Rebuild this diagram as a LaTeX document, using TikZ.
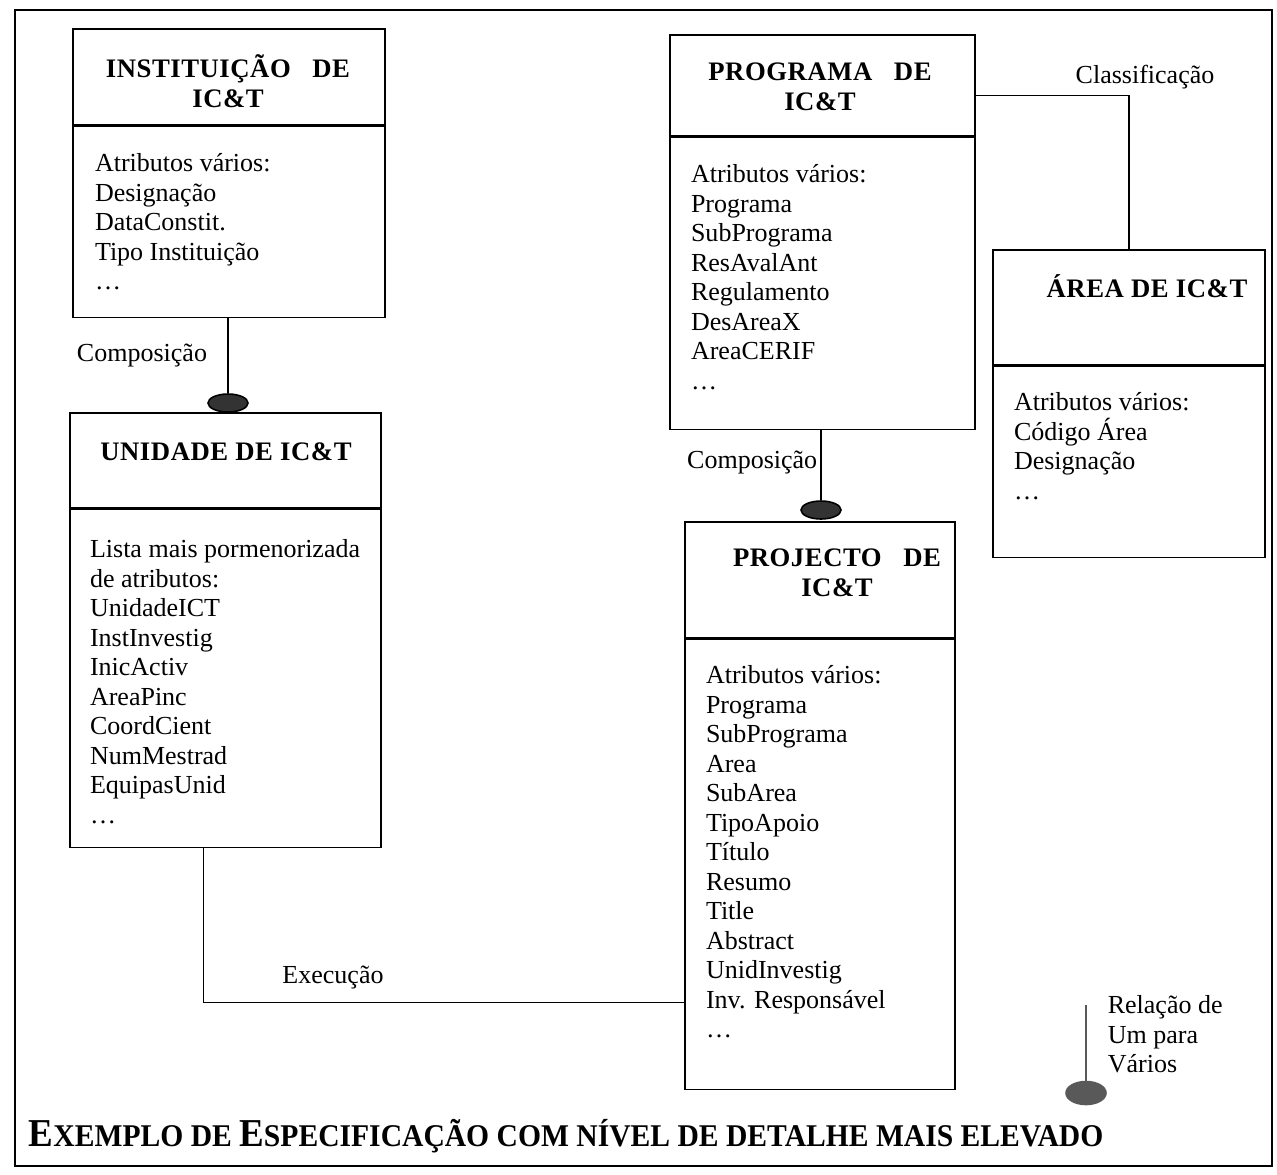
\documentclass[tikz,border=0pt]{standalone}
\usepackage{fontspec}
\setmainfont{Liberation Serif}
\usepackage{graphicx}
\usepackage{tikz}
\usetikzlibrary{shapes.geometric,positioning,calc}

\newcommand{\bigE}[1]{{\fontsize{22.5}{22.5}\selectfont #1}}

\begin{document}
\begin{tikzpicture}[x=0.02cm, y=-0.02cm, line width=0.9pt,
    box/.style={draw, rectangle, inner sep=0pt},
    hdr/.style={align=center, inner sep=0pt, font=\fontsize{15.2}{16.8}\selectfont\bfseries\addfontfeatures{LetterSpace=2}},
    attr/.style={anchor=north west, align=left, inner sep=0pt, font=\fontsize{14.8}{16.8}\selectfont},
    lbl/.style={inner sep=0pt, font=\fontsize{14.8}{16.8}\selectfont},
    blob/.style={draw, ellipse, fill=black!80, inner sep=0pt, minimum width=0.8cm, minimum height=0.36cm}]

    \useasboundingbox (0,0) rectangle (1277,1174);
    \draw [line width=1.2pt] (15,10) rectangle (1272,1166);

    % Instituicao
    \node [box, minimum width=6.24cm, minimum height=1.92cm] (insth) at (229,77) {};
    \node [box, minimum width=6.24cm, minimum height=3.82cm, below=0pt of insth] (instb) {};
    \node [hdr] (insttitle) at (228,81) {INSTITUIÇÃO\ \ \ DE\\IC\&T};
    \node [attr] (insttxt) at ($(instb.north west)+(22,27)$) {Atributos vários:\\Designação\\DataConstit.\\Tipo Instituição\\\ldots};

    % Unidade
    \node [box, minimum width=6.22cm, minimum height=1.9cm] (unidh) at (225.5,460.5) {};
    \node [box, minimum width=6.22cm, minimum height=6.76cm, below=0pt of unidh] (unidb) {};
    \node [hdr] (unidtitle) at (226,452) {UNIDADE DE IC\&T};
    \node [attr] (unidtxt) at ($(unidb.north west)+(20,30)$) {Lista mais pormenorizada\\de atributos:\\UnidadeICT\\InstInvestig\\InicActiv\\AreaPinc\\CoordCient\\NumMestrad\\EquipasUnid\\\ldots};

    % Programa
    \node [box, minimum width=6.1cm, minimum height=2.02cm] (progh) at (822.5,85.5) {};
    \node [box, minimum width=6.1cm, minimum height=5.84cm, below=0pt of progh] (progb) {};
    \node [hdr] (progtitle) at (820,87) {PROGRAMA\ \ \ DE\\IC\&T};
    \node [attr] (progtxt) at ($(progb.north west)+(21,27)$) {Atributos vários:\\Programa\\SubPrograma\\ResAvalAnt\\Regulamento\\DesAreaX\\AreaCERIF\\\ldots};

    % Area
    \node [box, minimum width=5.44cm, minimum height=2.3cm] (areah) at (1129,307.5) {};
    \node [box, minimum width=5.44cm, minimum height=3.82cm, below=0pt of areah] (areab) {};
    \node [hdr] (areatitle) at (1147,286) {ÁREA DE IC\&T};
    \node [attr] (areatxt) at ($(areab.north west)+(21,26)$) {Atributos vários:\\Código Área\\Designação\\\ldots};

    % Projecto
    \node [box, minimum width=5.4cm, minimum height=2.32cm] (projh) at (820,580) {};
    \node [box, minimum width=5.4cm, minimum height=9cm, below=0pt of projh] (projb) {};
    \node [hdr] (projtitle) at (837,573) {PROJECTO\ \ \ DE\\IC\&T};
    \node [attr] (projtxt) at ($(projb.north west)+(21,26)$) {Atributos vários:\\Programa\\SubPrograma\\Area\\SubArea\\TipoApoio\\Título\\Resumo\\Title\\Abstract\\UnidInvestig\\Inv. Responsável\\\ldots};

    % relacoes
    \node [blob] (dotA) at (228,403) {};
    \draw (dotA.north |- instb.south) -- (dotA.north);
    \node [lbl] (compA) at (142,355) {Composição};

    \node [blob] (dotB) at (821,510) {};
    \draw (dotB.north |- progb.south) -- (dotB.north);
    \node [lbl, anchor=east] (compB) at (818,462) {Composição};

    \draw ($(progh.east)+(0,10)$) -| (areah.north);
    \node [lbl] (classif) at (1145,77) {Classificação};

    \draw ($(unidb.south)+(-22,0)$) |- ($(projb.south west)+(0,-88)$);
    \node [lbl] (exec) at (333,977) {Execução};

    % legenda
    \coordinate (legtop) at (1086,1005);
    \node [blob, draw=black!65, fill=black!65, minimum height=0.46cm] (legdot) at (1086,1093) {};
    \draw [black!65] (legtop) -- (legdot.north);
    \node [attr] (legtxt) at (1107,995) {Relação de\\Um para\\Vários};

    \node [anchor=west, inner sep=0pt, font=\bfseries\fontsize{18}{18}\selectfont] (caption) at (28,1136) {\scalebox{0.936}[1]{\bigE{E}XEMPLO DE \bigE{E}SPECIFICAÇÃO COM NÍVEL DE DETALHE MAIS ELEVADO}};
\end{tikzpicture}
\end{document}
